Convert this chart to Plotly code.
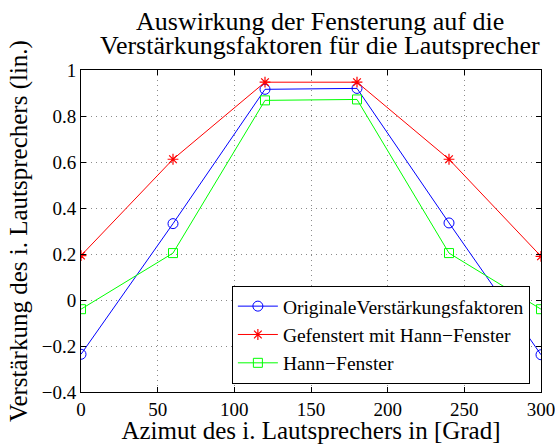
import plotly.graph_objects as go

azimut = [0, 60, 120, 180, 240, 300]
original = [-0.236, 0.332, 0.916, 0.92, 0.335, -0.238]
gefenstert = [0.193, 0.612, 0.947, 0.947, 0.612, 0.19]
hann = [-0.04, 0.204, 0.868, 0.872, 0.204, -0.04]
title_lines = ["Auswirkung der Fensterung auf die", "Verstärkungsfaktoren für die Lautsprecher"]

FONT = "Liberation Serif, Times New Roman, serif"

fig = go.Figure()
fig.add_trace(go.Scatter(x=azimut, y=original, mode="lines+markers",
                         name="OriginaleVerstärkungsfaktoren",
                         line=dict(color="#0000ff", width=1),
                         marker=dict(symbol="circle-open", size=10, color="#0000ff", line=dict(width=1))))
fig.add_trace(go.Scatter(x=azimut, y=gefenstert, mode="lines+markers",
                         name="Gefenstert mit Hann\u2212Fenster",
                         line=dict(color="#ff0000", width=1),
                         marker=dict(symbol="asterisk-open", size=9, color="#ff0000", line=dict(width=1.2, color="#ff0000"))))
fig.add_trace(go.Scatter(x=azimut, y=hann, mode="lines+markers",
                         name="Hann\u2212Fenster",
                         line=dict(color="#00ff00", width=1),
                         marker=dict(symbol="square-open", size=9, color="#00ff00", line=dict(width=1))))

axis_common = dict(showline=True, linecolor="black", linewidth=1, mirror="ticks",
                   ticks="inside", ticklen=5, tickcolor="black", automargin=False,
                   ticklabeloverflow="allow",
                   showgrid=True, gridcolor="rgba(90,90,90,0.7)", griddash="1px,4px", gridwidth=1,
                   zeroline=False, tickfont=dict(family=FONT, size=19, color="black"))

for i, line in enumerate(title_lines):
    fig.add_annotation(text=line, xref="paper", yref="paper", x=0.52, y=1.152 - 0.075 * i,
                       xanchor="center", yanchor="middle", showarrow=False,
                       font=dict(family=FONT, size=26, color="black"))

fig.update_layout(
    width=555, height=444,
    margin=dict(l=81, r=14, t=70, b=52),
    paper_bgcolor="white", plot_bgcolor="white",
    xaxis=dict(range=[0, 300], tickvals=[0, 50, 100, 150, 200, 250, 300],
               title=dict(text="Azimut des i. Lautsprechers in [Grad]", standoff=4,
                          font=dict(family=FONT, size=25, color="black")),
               **axis_common),
    yaxis=dict(range=[-0.4, 1], tickvals=[-0.4, -0.2, 0, 0.2, 0.4, 0.6, 0.8, 1],
               ticktext=["\u22120.4", "\u22120.2", "0", "0.2", "0.4", "0.6", "0.8", "1"],
               title=dict(text="Verstärkung des i. Lautsprechers (lin.)", standoff=6,
                          font=dict(family=FONT, size=25, color="black")),
               **axis_common),
    legend=dict(x=0.328, y=0.025, xanchor="left", yanchor="bottom",
                bgcolor="white", bordercolor="black", borderwidth=1,
                font=dict(family=FONT, size=19.5, color="black"),
                tracegroupgap=0, itemwidth=40),
    showlegend=True,
)

fig.write_html("out.html", config={"displayModeBar": False})
with open("out.html", encoding="utf-8") as f:
    html = f.read()
html = html.replace("<body>", '<body style="margin:0;padding:0;overflow:hidden">', 1)
with open("out.html", "w", encoding="utf-8") as f:
    f.write(html)
